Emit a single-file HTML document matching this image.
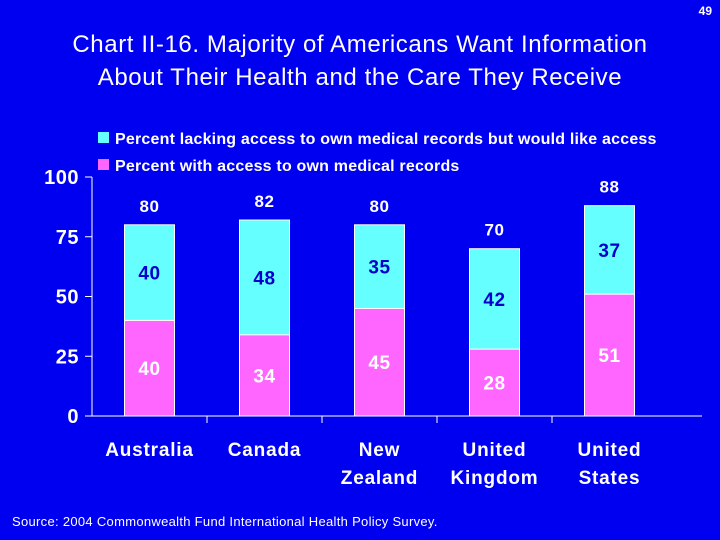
<!DOCTYPE html>
<html><head><meta charset="utf-8"><style>
html,body{margin:0;padding:0;}
body{width:720px;height:540px;background:#0000f0;overflow:hidden;position:relative;font-family:"Liberation Sans",sans-serif;color:#fff;}
.t{position:absolute;white-space:nowrap;}
</style></head><body>
<div class="t" style="right:8px;top:4px;font-size:12px;font-weight:bold;">49</div>
<div class="t" style="left:0;width:720px;top:28px;text-align:center;font-size:24px;line-height:33px;letter-spacing:0.6px;white-space:normal;">Chart II-16. Majority of Americans Want Information<br>About Their Health and the Care They Receive</div>
<svg width="720" height="540" style="position:absolute;left:0;top:0">
<g id="g"></g>
</svg>
<div class="t" style="left:12px;top:514px;font-size:13px;letter-spacing:0.3px;">Source: 2004 Commonwealth Fund International Health Policy Survey.</div>
<script>
const categories=[["Australia"],["Canada"],["New","Zealand"],["United","Kingdom"],["United","States"]];
const withAccess=[40,34,45,28,51];
const lacking=[40,48,35,42,37];
const totals=[80,82,80,70,88];
const yTicks=[0,25,50,75,100];
const legendLabels=["Percent lacking access to own medical records but would like access","Percent with access to own medical records"];
const NS="http://www.w3.org/2000/svg";
const g=document.getElementById('g');
const x0=92,x1=667,yb=416,yt=177;
const bw=(x1-x0)/categories.length;
const y=v=>yb-(yb-yt)*v/100;
function el(t,a,txt){const e=document.createElementNS(NS,t);for(const k in a)e.setAttribute(k,a[k]);if(txt!=null)e.textContent=txt;g.appendChild(e);return e;}
let e;
e=el('line',{x1:x0,y1:yt,x2:x0,y2:yb,stroke:'#fff','stroke-width':1});


e=el('line',{x1:x0,y1:yb,x2:x1+35,y2:yb,stroke:'#fff','stroke-width':1});


yTicks.forEach(v=>{
 e=el('line',{x1:x0-7,y1:y(v),x2:x0,y2:y(v),stroke:'#fff'});
 
 
 e=el('text',{x:x0-13,y:y(v)+7,'text-anchor':'end','font-size':20,'font-weight':'bold',fill:'#fff','font-family':'Liberation Sans',style:'letter-spacing:0.5px'},v);
 
 
});
for(let i=1;i<categories.length;i++){
 e=el('line',{x1:x0+bw*i,y1:yb,x2:x0+bw*i,y2:yb+7,stroke:'#fff'});
 
 
}
categories.forEach((c,i)=>{
 const cx=x0+bw*(i+0.5),w=50;
 const ym=y(withAccess[i]),yc=y(withAccess[i]+lacking[i]);
 e=el('rect',{x:cx-w/2,y:ym,width:w,height:yb-ym,fill:'#ff66ff',stroke:'#fff','stroke-width':1});
 
 
 e=el('rect',{x:cx-w/2,y:yc,width:w,height:ym-yc,fill:'#66ffff',stroke:'#fff','stroke-width':1});
 
 
 e=el('text',{x:cx,y:(ym+yb)/2+7,'text-anchor':'middle','font-size':19,'font-weight':'bold',fill:'#fff','font-family':'Liberation Sans',style:'letter-spacing:0.5px'},withAccess[i]);
 
 
 e=el('text',{x:cx,y:(ym+yc)/2+7,'text-anchor':'middle','font-size':19,'font-weight':'bold',fill:'#0000cc','font-family':'Liberation Sans',style:'letter-spacing:0.5px'},lacking[i]);
 
 
 e=el('text',{x:cx,y:y(totals[i])-13,'text-anchor':'middle','font-size':17,'font-weight':'bold',fill:'#fff','font-family':'Liberation Sans',style:'letter-spacing:0.5px'},totals[i]);
 
 
 c.forEach((ln,j)=>{
  e=el('text',{x:cx,y:456+j*28,'text-anchor':'middle','font-size':19,'font-weight':'bold',fill:'#fff','font-family':'Liberation Sans',style:'letter-spacing:0.8px'},ln);
  
  
 });
});
const lc=['#66ffff','#ff66ff'];
legendLabels.forEach((t,i)=>{
 e=el('rect',{x:98,y:132+i*27,width:11,height:11,fill:lc[i]});
 
 
 e=el('text',{x:115,y:144+i*27,'font-size':16,'font-weight':'bold',fill:'#fff','font-family':'Liberation Sans',style:'letter-spacing:0.2px'},t);
 
 
});
</script>
</body></html>
